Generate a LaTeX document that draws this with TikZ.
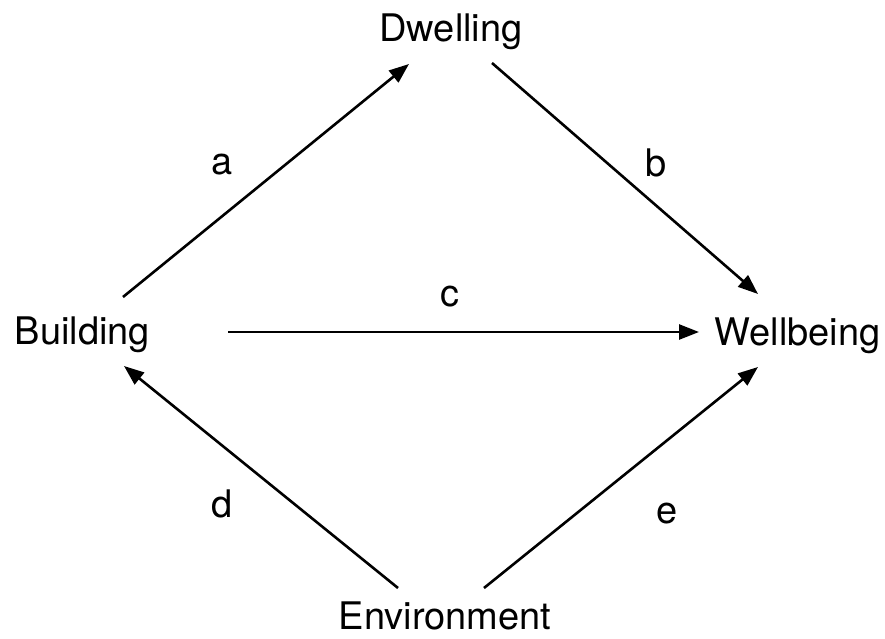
\documentclass[tikz,border=0pt]{standalone}
\usepackage{fontspec}
\setmainfont{TeX Gyre Heros}
\usetikzlibrary{arrows.meta}
\begin{document}
\begin{tikzpicture}[x=1pt,y=-1pt,
  lbl/.style={anchor=base,inner sep=0pt,font=\fontsize{38}{40}\selectfont},
  arr/.style={line width=2.6pt,-{Triangle[length=20pt,width=15pt]}}]
\useasboundingbox (0,0) rectangle (885,639);
\node[lbl] (dw) at (451,42) {Dwelling};
\node[lbl] (bu) at (82.5,344) {Building};
\node[lbl] (we) at (797.5,345) {Wellbeing};
\node[lbl] (en) at (445,629) {Environment};
\node[lbl] (la) at (222,175) {a};
\node[lbl] (lb) at (656,177) {b};
\node[lbl] (lc) at (450,306) {c};
\node[lbl] (ld) at (222,517) {d};
\node[lbl] (le) at (667,523) {e};
\coordinate (a1) at (123,297);
\coordinate (a2) at (409,64);
\coordinate (b1) at (492,63);
\coordinate (b2) at (758,294);
\coordinate (c1) at (228,332);
\coordinate (c2) at (699,332);
\coordinate (d1) at (398,588);
\coordinate (d2) at (124,366);
\coordinate (e1) at (484,588);
\coordinate (e2) at (758,367);
\draw[arr] (a1) -- (a2);
\draw[arr] (b1) -- (b2);
\draw[arr] (c1) -- (c2);
\draw[arr] (d1) -- (d2);
\draw[arr] (e1) -- (e2);
\end{tikzpicture}
\end{document}
